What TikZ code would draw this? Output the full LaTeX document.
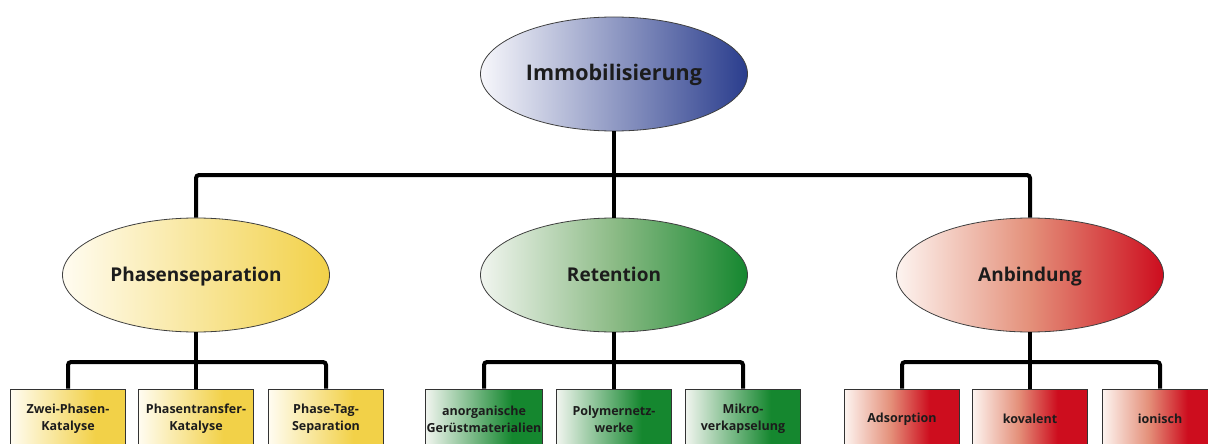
\documentclass[tikz,border=0pt]{standalone}
\usepackage{fontspec}
\setmainfont{Open Sans}
\usetikzlibrary{shapes.geometric}

\definecolor{blauhell}{HTML}{F7F7FB}
\definecolor{blau}{HTML}{2A3D8D}
\definecolor{gelbhell}{HTML}{FFFCF1}
\definecolor{gelb}{HTML}{F2D148}
\definecolor{gruenhell}{HTML}{F1F5EF}
\definecolor{gruenmitte}{HTML}{8CBB86}
\definecolor{gruen}{HTML}{15872F}
\definecolor{rothell}{HTML}{FDF4F0}
\definecolor{rotmitte}{HTML}{E4907A}
\definecolor{rot}{HTML}{CD0D1E}
\definecolor{schrift}{HTML}{1C1C1C}

\pgfdeclarehorizontalshading{gelbkasten}{100bp}{color(0bp)=(gelbhell); color(25bp)=(gelbhell); color(62bp)=(gelb); color(100bp)=(gelb)}
\pgfdeclarehorizontalshading{gruenkasten}{100bp}{color(0bp)=(gruenhell); color(25bp)=(gruenhell); color(62bp)=(gruen); color(100bp)=(gruen)}
\pgfdeclarehorizontalshading{rotkasten}{100bp}{color(0bp)=(rothell); color(25bp)=(rothell); color(45bp)=(rotmitte); color(62bp)=(rot); color(100bp)=(rot)}

\begin{document}
\begin{tikzpicture}[x=1pt, y=-1pt,
    oval/.style={ellipse, draw=black!75, line width=0.8pt, minimum width=267pt, minimum height=114pt,
      text height=14pt, text depth=2pt, text=schrift, font=\fontsize{19}{23}\selectfont\bfseries},
    kasten/.style={rectangle, draw=black!80, line width=0.8pt, minimum width=115pt, minimum height=60pt,
      inner sep=1pt, align=center, text=schrift, font=\fontsize{12.5}{17}\selectfont\bfseries},
    ast/.style={line width=4pt, rounded corners=3pt}]
  % 1. Rahmen
  \useasboundingbox (0,0) rectangle (1208,444);
  \clip (0,0) rectangle (1208,444);

  % 2. Oberbegriff und die drei Wege
  \node[oval, left color=blauhell, right color=blau, text height=16pt, text depth=2pt,
    font=\fontsize{21.5}{26}\selectfont\bfseries] (T) at (614,74) {Immobilisierung};
  \node[oval, left color=gelbhell, right color=gelb] (P) at (196,275) {Phasenseparation};
  \node[oval, left color=gruenhell, right color=gruen, middle color=gruenmitte] (R) at (614,275) {Retention};
  \node[oval, left color=rothell, right color=rot, middle color=rotmitte] (A) at (1030,275) {Anbindung};

  % 3. Kaesten unter jedem Weg
  \node[kasten, shading=gelbkasten] (P_1) at (68,419) {Zwei-Phasen-\\Katalyse};
  \node[kasten, shading=gelbkasten] (P_2) at (196,419) {Phasentransfer-\\Katalyse};
  \node[kasten, shading=gelbkasten] (P_3) at (326,419) {Phase-Tag-\\Separation};
  \node[kasten, shading=gruenkasten] (R_1) at (484,419) {anorganische\\Gerüstmaterialien};
  \node[kasten, shading=gruenkasten] (R_2) at (614,419) {Polymernetz-\\werke};
  \node[kasten, shading=gruenkasten] (R_3) at (743,419) {Mikro-\\verkapselung};
  \node[kasten, shading=rotkasten] (A_1) at (902,419) {Adsorption};
  \node[kasten, shading=rotkasten] (A_2) at (1030,419) {kovalent};
  \node[kasten, shading=rotkasten] (A_3) at (1160,419) {ionisch};

  % 4. Verzweigungspunkte
  \coordinate (J) at (614,175);
  \coordinate (K_1) at (196,362);
  \coordinate (K_2) at (614,362);
  \coordinate (K_3) at (1030,362);

  % 5. Verbindungen
  \draw[ast] (T) -- (J);
  \draw[ast] (P) |- (J) -| (A);
  \draw[ast] (J) -- (R);
  \draw[ast] (P) -- (K_1);
  \draw[ast] (P_1) |- (K_1) -| (P_3);
  \draw[ast] (K_1) -- (P_2);
  \draw[ast] (R) -- (K_2);
  \draw[ast] (R_1) |- (K_2) -| (R_3);
  \draw[ast] (K_2) -- (R_2);
  \draw[ast] (A) -- (K_3);
  \draw[ast] (A_1) |- (K_3) -| (A_3);
  \draw[ast] (K_3) -- (A_2);
\end{tikzpicture}
\end{document}
